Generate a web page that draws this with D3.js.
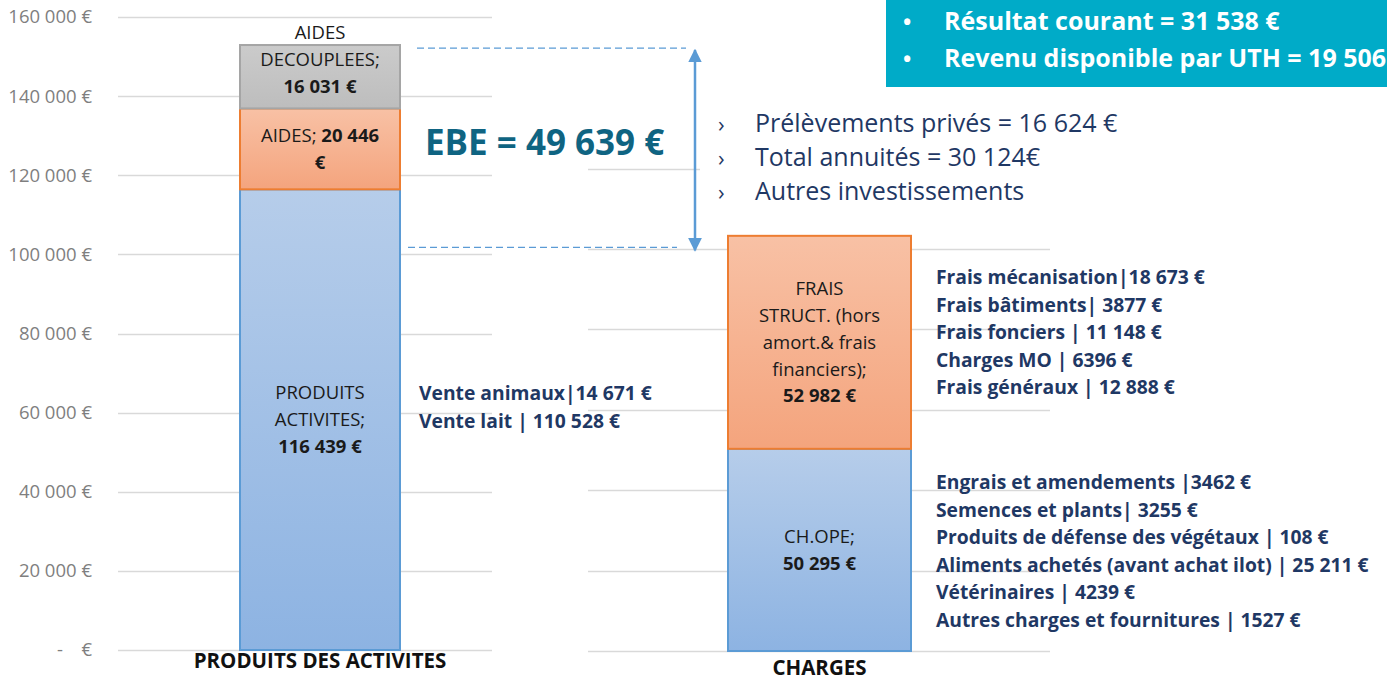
<!DOCTYPE html>
<html>
<head>
    <meta charset="utf-8">
    <title>Produits et charges</title>
    <script src="https://d3js.org/d3.v7.min.js"></script>
    <style>
        body { margin: 0; background: #fff; }
        text { font-family: "Open Sans", Lato, sans-serif; }
    </style>
</head>
<body>
    <div id="chart"></div>
    <script>

        // values
        var yTicks = [0, 20000, 40000, 60000, 80000, 100000, 120000, 140000, 160000];
        var rightTicks = [0, 20000, 40000, 60000, 80000, 100000, 120000];

        var produitsNames = [["PRODUITS", "ACTIVITES;"], ["AIDES;"], ["AIDES", "DECOUPLEES;"]];
        var produitsValues = [116439, 20446, 16031];
        var chargesNames = [["CH.OPE;"], ["FRAIS", "STRUCT. (hors", "amort.& frais", "financiers);"]];
        var chargesValues = [50295, 52982];
        var ebe = 49639;

        var produitsDetails = ["Vente animaux|14 671 €", "Vente lait | 110 528 €"];
        var fraisDetails = ["Frais mécanisation|18 673 €", "Frais bâtiments| 3877 €", "Frais fonciers | 11 148 €",
                            "Charges MO | 6396 €", "Frais généraux | 12 888 €"];
        var opeDetails = ["Engrais et amendements |3462 €", "Semences et plants| 3255 €",
                          "Produits de défense des végétaux | 108 €", "Aliments achetés (avant achat ilot) | 25 211 €",
                          "Vétérinaires | 4239 €", "Autres charges et fournitures | 1527 €"];
        var ebeNotes = ["Prélèvements privés = 16 624 €", "Total annuités = 30 124€", "Autres investissements"];
        var resultNotes = ["Résultat courant = 31 538 €", "Revenu disponible par UTH = 19 506 €"];

        var segColors = [["#b6cdea", "#8db3e2", "#5b9bd5"], ["#f8c1a5", "#f4a47d", "#ed7d31"], ["#cbcbcb", "#bdbdbd", "#a5a5a5"]];
        var navy = "#1f3864";

        var fr = d3.formatLocale({decimal: ",", thousands: "\u00a0", grouping: [3], currency: ["", "\u00a0€"]});
        var money = fr.format("$,.0f");

        var W = 1387, H = 678;
        var svg = d3.select("#chart").append("svg")
            .attr("width", W).attr("height", H);

        var defs = svg.append("defs");
        segColors.forEach(function(c, i) {
            var g = defs.append("linearGradient").attr("id", "grad" + i)
                .attr("x1", 0).attr("y1", 0).attr("x2", 0).attr("y2", 1);
            g.append("stop").attr("offset", "0%").attr("stop-color", c[0]);
            g.append("stop").attr("offset", "100%").attr("stop-color", c[1]);
        });

        // left chart
        var yL = d3.scaleLinear().domain([0, 160000]).range([650, 17]);
        var xL = d3.scaleBand().domain(["PRODUITS DES ACTIVITES"]).range([239, 401]);

        svg.append("g").selectAll("line").data(yTicks).join("line")
            .attr("x1", 118).attr("x2", 492)
            .attr("y1", function(d) { return Math.round(yL(d)) + 0.5; })
            .attr("y2", function(d) { return Math.round(yL(d)) + 0.5; })
            .attr("stroke", "#d9d9d9").attr("stroke-width", 1.5);

        svg.append("g").attr("transform", "translate(100,0)")
            .call(d3.axisLeft(yL).tickValues(yTicks).tickSize(0).tickPadding(8)
                .tickFormat(function(d) { return d === 0 ? "-\u2003€" : money(d); }))
            .call(function(g) { g.select(".domain").remove(); })
            .selectAll("text")
            .style("font-family", "'Open Sans', sans-serif")
            .style("font-size", "18.5px")
            .attr("fill", "#7f7f7f");

        // right chart
        var yR = d3.scaleLinear().domain([0, 100000]).range([651, 249]);
        var xR = d3.scaleBand().domain(["CHARGES"]).range([727, 912]);

        svg.append("g").selectAll("line").data(rightTicks).join("line")
            .attr("x1", 588).attr("x2", 1050)
            .attr("y1", function(d) { return Math.round(yR(d)) + 0.5; })
            .attr("y2", function(d) { return Math.round(yR(d)) + 0.5; })
            .attr("stroke", "#d9d9d9").attr("stroke-width", 1.5);

        // stack helper
        function stack(values) {
            var acc = 0;
            return values.map(function(v, i) {
                var s = {i: i, v: v, y0: acc, y1: acc + v};
                acc += v;
                return s;
            });
        }

        function drawBar(values, names, x, cat, y, colorIdx) {
            var segs = stack(values);
            var g = svg.append("g");
            g.selectAll("rect").data(segs).join("rect")
                .attr("x", x(cat) + 1)
                .attr("width", x.bandwidth() - 2)
                .attr("y", function(d) { return y(d.y1); })
                .attr("height", function(d) { return y(d.y0) - y(d.y1); })
                .attr("fill", function(d) { return "url(#grad" + colorIdx[d.i] + ")"; })
                .attr("stroke", function(d) { return segColors[colorIdx[d.i]][2]; })
                .attr("stroke-width", 2);

            var cx = x(cat) + x.bandwidth() / 2;
            segs.forEach(function(d) {
                var lines = names[d.i].map(function(n) { return [[n, false]]; });
                var val = money(d.v);
                if (lines.length === 1 && names[d.i][0] === "AIDES;") {
                    // value wraps after the number
                    var parts = val.split("\u00a0€");
                    lines = [[["AIDES; ", false], [parts[0], true]], [["€", true]]];
                } else {
                    lines.push([[val, true]]);
                }
                var lh = 26.8;
                var mid = (y(d.y0) + y(d.y1)) / 2;
                var blockH = lh * lines.length;
                if (blockH > y(d.y0) - y(d.y1)) mid = y(d.y0) - 49;
                var t = g.append("text").attr("text-anchor", "middle")
                    .style("font-size", "18.5px").attr("fill", "#1a1a1a");
                lines.forEach(function(line, li) {
                    var first = true;
                    line.forEach(function(p) {
                        var ts = t.append("tspan").text(p[0])
                            .style("font-weight", p[1] ? "bold" : "normal");
                        if (first) {
                            ts.attr("x", cx).attr("y", mid - blockH / 2 + lh * li + lh / 2 + 6.5);
                            first = false;
                        }
                    });
                });
            });
        }

        drawBar(produitsValues, produitsNames, xL, "PRODUITS DES ACTIVITES", yL, [0, 1, 2]);
        drawBar(chargesValues, chargesNames, xR, "CHARGES", yR, [0, 1]);

        // category labels
        svg.append("text").attr("x", xL("PRODUITS DES ACTIVITES") + xL.bandwidth() / 2).attr("y", 668)
            .attr("text-anchor", "middle").style("font-size", "20.5px").style("font-weight", "bold")
            .attr("fill", "#111").text("PRODUITS DES ACTIVITES");
        svg.append("text").attr("x", xR("CHARGES") + xR.bandwidth() / 2).attr("y", 675)
            .attr("text-anchor", "middle").style("font-size", "20.5px").style("font-weight", "bold")
            .attr("fill", "#111").text("CHARGES");

        // white box behind the notes
        svg.append("rect").attr("x", 700).attr("y", 100).attr("width", 360).attr("height", 112).attr("fill", "#fff");

        // EBE annotation
        var totalProduits = d3.sum(produitsValues);
        var yTop = yL(totalProduits) + 3, yBot = yL(totalProduits - ebe) + 6;
        svg.append("line").attr("x1", 417).attr("x2", 686).attr("y1", yTop).attr("y2", yTop)
            .attr("stroke", "#5b9bd5").attr("stroke-width", 1.3).attr("stroke-dasharray", "7,4");
        svg.append("line").attr("x1", 408).attr("x2", 677).attr("y1", yBot).attr("y2", yBot)
            .attr("stroke", "#5b9bd5").attr("stroke-width", 1.3).attr("stroke-dasharray", "7,4");

        defs.append("marker").attr("id", "arr").attr("viewBox", "0 0 10 10")
            .attr("refX", 9).attr("refY", 5).attr("markerWidth", 5.5).attr("markerHeight", 5.5)
            .attr("orient", "auto-start-reverse")
            .append("path").attr("d", "M0,0L10,5L0,10z").attr("fill", "#5b9bd5");
        svg.append("line").attr("x1", 695).attr("x2", 695).attr("y1", yTop + 2).attr("y2", yBot + 3)
            .attr("stroke", "#5b9bd5").attr("stroke-width", 2.5)
            .attr("marker-start", "url(#arr)").attr("marker-end", "url(#arr)");

        svg.append("text").attr("x", 425).attr("y", 155)
            .style("font-size", "35px").style("font-weight", "bold").attr("fill", "#0f6482")
            .text("EBE = " + money(ebe).replace(/\u00a0/g, " "));

        var notes = svg.append("g");
        ebeNotes.forEach(function(n, i) {
            notes.append("text").attr("x", 718).attr("y", 132 + i * 34)
                .style("font-size", "22px").attr("fill", navy).text("›");
            notes.append("text").attr("x", 755).attr("y", 132 + i * 34)
                .style("font-size", "25px").attr("fill", navy).text(n);
        });

        // teal box
        svg.append("rect").attr("x", 886).attr("y", 0).attr("width", W - 886).attr("height", 87).attr("fill", "#00abc8");
        resultNotes.forEach(function(n, i) {
            svg.append("text").attr("x", 903).attr("y", 30 + i * 37)
                .style("font-size", "22px").style("font-weight", "bold").attr("fill", "#fff").text("•");
            svg.append("text").attr("x", 944).attr("y", 30 + i * 37)
                .style("font-size", "25px").style("font-weight", "bold").attr("fill", "#fff").text(n);
        });

        // detail lists
        function detailList(items, x, y0, step) {
            var g = svg.append("g");
            g.selectAll("text").data(items).join("text")
                .attr("x", x).attr("y", function(d, i) { return y0 + i * step; })
                .style("font-size", "19.3px").style("font-weight", "bold").attr("fill", navy)
                .text(function(d) { return d; });
        }
        detailList(produitsDetails, 419, 400, 28);
        detailList(fraisDetails, 936, 284, 27.5);
        detailList(opeDetails, 936, 489, 27.6);

    </script>
</body>
</html>
